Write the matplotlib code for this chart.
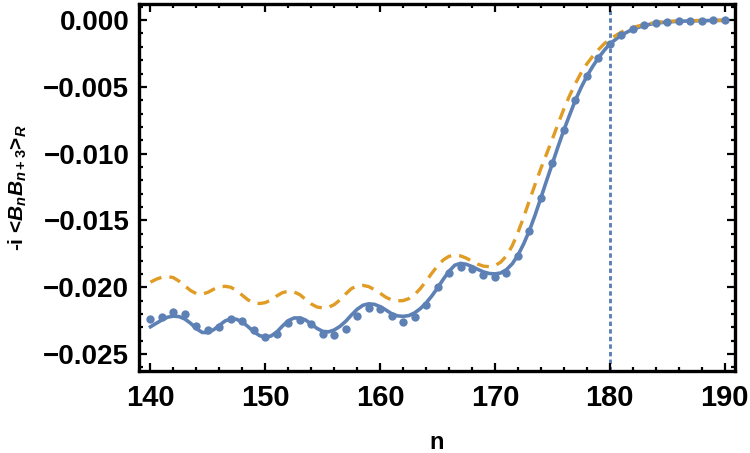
import numpy as np
import matplotlib
matplotlib.use("Agg")
import matplotlib.pyplot as plt
from matplotlib.ticker import MultipleLocator, FuncFormatter

plt.rcParams['font.family'] = ['Liberation Sans', 'DejaVu Sans']
plt.rcParams['font.weight'] = 'bold'
plt.rcParams['mathtext.fontset'] = 'custom'
plt.rcParams['mathtext.rm'] = 'Liberation Sans:bold'
plt.rcParams['mathtext.it'] = 'Liberation Sans:italic:bold'
plt.rcParams['mathtext.bf'] = 'Liberation Sans:bold'

# numerical data points (dots), one per site n
n_dots = list(range(140, 191))
dots = [-0.02240, -0.02225, -0.02188, -0.02201, -0.02290, -0.02323, -0.02300,
        -0.02240, -0.02255, -0.02320, -0.02373, -0.02350, -0.02270, -0.02245,
        -0.02275, -0.02348, -0.02358, -0.02310, -0.02216, -0.02158, -0.02163,
        -0.02216, -0.02258, -0.02225, -0.02133, -0.01996, -0.01891, -0.01846,
        -0.01864, -0.01909, -0.01926, -0.01891, -0.01766, -0.01577, -0.01330,
        -0.01073, -0.00823, -0.00599, -0.00419, -0.00283, -0.00177, -0.00114,
        -0.00070, -0.00040, -0.00022, -0.00014, -0.00009, -0.00005, -0.00003,
        -0.00002, -0.00002]

# curve sample positions
n_curve = [140.0, 140.5, 141.0, 141.5, 142.0, 142.5, 143.0, 143.5, 144.0, 144.5,
           145.0, 145.5, 146.0, 146.5, 147.0, 147.5, 148.0, 148.5, 149.0, 149.5,
           150.0, 150.5, 151.0, 151.5, 152.0, 152.5, 153.0, 153.5, 154.0, 154.5,
           155.0, 155.5, 156.0, 156.5, 157.0, 157.5, 158.0, 158.5, 159.0, 159.5,
           160.0, 160.5, 161.0, 161.5, 162.0, 162.5, 163.0, 163.5, 164.0, 164.5,
           165.0, 165.5, 166.0, 166.5, 167.0, 167.5, 168.0, 168.5, 169.0, 169.5,
           170.0, 170.5, 171.0, 171.5, 172.0, 172.5, 173.0, 173.5, 174.0, 174.5,
           175.0, 175.5, 176.0, 176.5, 177.0, 177.5, 178.0, 178.5, 179.0, 179.5,
           180.0, 181.0, 182.0, 183.0, 184.0, 185.0, 186.0, 187.0, 188.0, 189.0,
           190.0]

# solid blue curve
solid = [-0.02296, -0.02270, -0.02245, -0.02224, -0.02216, -0.02220, -0.02238,
         -0.02270, -0.02310, -0.02338, -0.02340, -0.02318, -0.02285, -0.02252,
         -0.02236, -0.02240, -0.02260, -0.02295, -0.02333, -0.02362, -0.02373,
         -0.02365, -0.02335, -0.02290, -0.02250, -0.02230, -0.02230, -0.02245,
         -0.02275, -0.02308, -0.02330, -0.02334, -0.02320, -0.02293, -0.02255,
         -0.02208, -0.02165, -0.02135, -0.02124, -0.02128, -0.02145, -0.02170,
         -0.02198, -0.02214, -0.02218, -0.02212, -0.02192, -0.02160, -0.02118,
         -0.02065, -0.02005, -0.01940, -0.01880, -0.01835, -0.01821, -0.01828,
         -0.01845, -0.01866, -0.01885, -0.01897, -0.01900, -0.01893, -0.01868,
         -0.01825, -0.01760, -0.01675, -0.01575, -0.01458, -0.01330, -0.01200,
         -0.01073, -0.00945, -0.00823, -0.00710, -0.00600, -0.00505, -0.00420,
         -0.00348, -0.00283, -0.00228, -0.00178, -0.00112, -0.00068, -0.00040,
         -0.00023, -0.00014, -0.00009, -0.00006, -0.00004, -0.00003, -0.00002]

# dashed orange curve
dashed = [-0.01962, -0.01940, -0.01925, -0.01920, -0.01928, -0.01955, -0.01990,
          -0.02025, -0.02048, -0.02052, -0.02038, -0.02015, -0.01998, -0.01993,
          -0.02000, -0.02025, -0.02060, -0.02095, -0.02117, -0.02122, -0.02115,
          -0.02095, -0.02065, -0.02040, -0.02030, -0.02035, -0.02055, -0.02090,
          -0.02125, -0.02148, -0.02155, -0.02150, -0.02130, -0.02095, -0.02050,
          -0.02010, -0.01990, -0.01986, -0.01995, -0.02018, -0.02045, -0.02075,
          -0.02095, -0.02102, -0.02100, -0.02085, -0.02055, -0.02010, -0.01955,
          -0.01895, -0.01840, -0.01795, -0.01768, -0.01760, -0.01765, -0.01782,
          -0.01805, -0.01827, -0.01842, -0.01846, -0.01838, -0.01812, -0.01765,
          -0.01690, -0.01590, -0.01475, -0.01350, -0.01228, -0.01110, -0.01000,
          -0.00890, -0.00775, -0.00665, -0.00565, -0.00475, -0.00395, -0.00328,
          -0.00272, -0.00222, -0.00178, -0.00142, -0.00090, -0.00055, -0.00032,
          -0.00018, -0.00010, -0.00006, -0.00004, -0.00003, -0.00002, -0.00002]

n_mark = 180

blue = '#5E81B5'
orange = '#E09C24'


def yfmt(v, pos):
    if abs(v) < 1e-9:
        return '0.000'
    s = '%.3f' % v
    return s.replace('-', '\u2212')


fig = plt.figure(figsize=(7.5, 4.53), dpi=100)
ax = fig.add_axes([0.1853, 0.181, 0.7947, 0.810])

ax.plot(n_curve, solid, color=blue, lw=2.6, zorder=2)
ax.plot(n_curve, dashed, color=orange, lw=2.4, dashes=(3.6, 2.4), zorder=3)
ax.plot(n_dots, dots, 'o', color=blue, ms=6, mew=0, zorder=4)
ax.axvline(n_mark, color=blue, lw=2.1, ls=(0, (1.5, 1.1)), zorder=1)

ax.set_xlim(139.0, 190.9)
ax.set_ylim(-0.02627, 0.0012)

ax.xaxis.set_major_locator(MultipleLocator(10))
ax.xaxis.set_minor_locator(MultipleLocator(2))
ax.yaxis.set_major_locator(MultipleLocator(0.005))
ax.yaxis.set_minor_locator(MultipleLocator(0.001))
ax.yaxis.set_major_formatter(FuncFormatter(yfmt))

for s in ax.spines.values():
    s.set_linewidth(2.4)
ax.tick_params(which='both', direction='in', top=True, right=True, width=1.6)
ax.tick_params(which='major', length=5.5)
ax.tick_params(which='minor', length=3.2)
ax.tick_params(axis='y', labelsize=20, pad=7)
ax.tick_params(axis='x', pad=9)
for lbl in ax.get_yticklabels():
    lbl.set_fontweight('bold')
for lbl in ax.get_xticklabels():
    lbl.set_fontweight('bold')
    lbl.set_family(['Liberation Sans Narrow', 'Liberation Sans'])
    lbl.set_fontsize(21)

ax.set_xlabel('n', fontsize=17, fontweight='bold', labelpad=14)
ax.set_ylabel(r'-i <$B_nB_{n+3}$>$_R$', fontsize=15, fontweight='bold', labelpad=10)

fig.savefig('out.png', dpi=100)
